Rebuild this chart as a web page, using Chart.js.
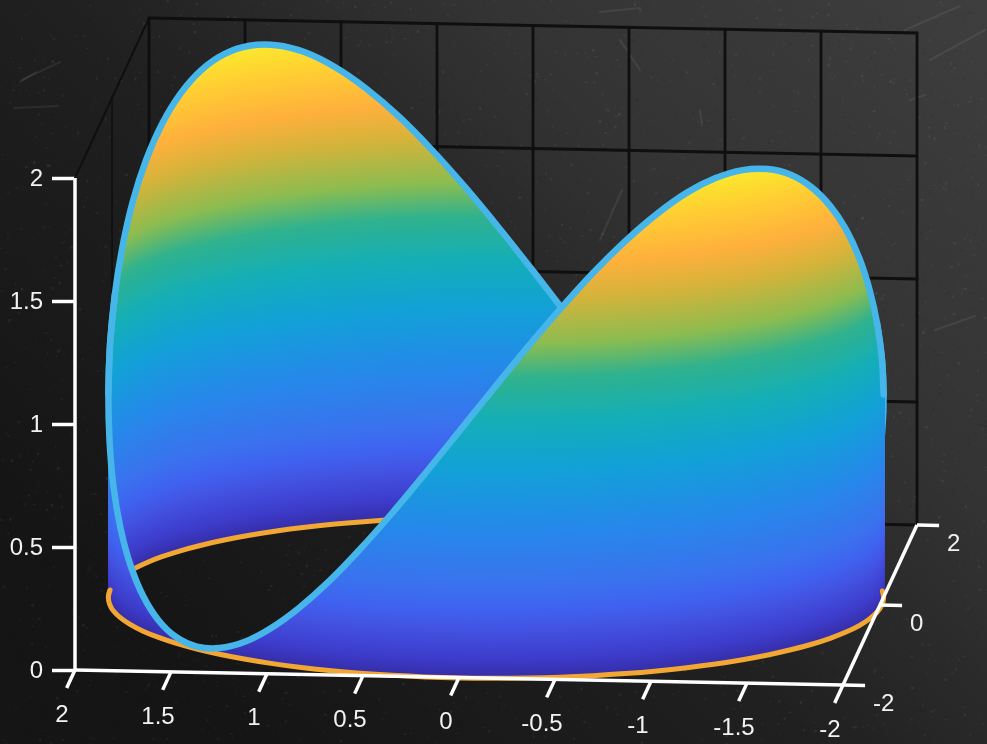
<!DOCTYPE html>
<html>
<head>
<meta charset="utf-8">
<style>html,body{margin:0;padding:0;background:#1c1c1c}canvas{display:block}</style>
<script src="https://cdn.jsdelivr.net/npm/chart.js@4"></script>
</head>
<body>
<canvas id="c" width="987" height="744"></canvas>
<script>
// Rim samples, from -5 deg round to 355 deg in 5 deg steps
const rimX = [2.002,2.01,2.002,1.979,1.942,1.889,1.822,1.741,1.646,1.54,1.421,1.292,1.153,1.005,.849,.687,.52,.349,.175,0,
 -.175,-.349,-.52,-.687,-.849,-1.005,-1.153,-1.292,-1.421,-1.54,-1.646,-1.741,-1.822,-1.889,-1.942,-1.979,-2.002,-2.01,
 -2.002,-1.979,-1.942,-1.889,-1.822,-1.741,-1.646,-1.54,-1.421,-1.292,-1.153,-1.005,-.849,-.687,-.52,-.349,-.175,0,
 .175,.349,.52,.687,.849,1.005,1.153,1.292,1.421,1.54,1.646,1.741,1.822,1.889,1.942,1.979,2.002];
const rimY = [-.175,0,.175,.349,.52,.687,.849,1.005,1.153,1.292,1.421,1.54,1.646,1.741,1.822,1.889,1.942,1.979,2.002,2.01,
 2.002,1.979,1.942,1.889,1.822,1.741,1.646,1.54,1.421,1.292,1.153,1.005,.849,.687,.52,.349,.175,0,
 -.175,-.349,-.52,-.687,-.849,-1.005,-1.153,-1.292,-1.421,-1.54,-1.646,-1.741,-1.822,-1.889,-1.942,-1.979,-2.002,-2.01,
 -2.002,-1.979,-1.942,-1.889,-1.822,-1.741,-1.646,-1.54,-1.421,-1.292,-1.153,-1.005,-.849,-.687,-.52,-.349,-.175];
const rimZ = [.828,1,1.172,1.339,1.495,1.637,1.758,1.857,1.931,1.975,1.99,1.975,1.931,1.857,1.758,1.637,1.495,1.339,1.172,1,
 .828,.661,.505,.363,.242,.143,.069,.025,.01,.025,.069,.143,.242,.363,.505,.661,.828,1,
 1.172,1.339,1.495,1.637,1.758,1.857,1.931,1.975,1.99,1.975,1.931,1.857,1.758,1.637,1.495,1.339,1.172,1,
 .828,.661,.505,.363,.242,.143,.069,.025,.01,.025,.069,.143,.242,.363,.505,.661,.828];
const xTicks = [2,1.5,1,0.5,0,-0.5,-1,-1.5,-2];
const yTicks = [-2,0,2];
const zTicks = [0,0.5,1,1.5,2];
const colourFractions = [0,.04,.1,.14,.19,.3,.42,.52,.61,.68,.77,.84,.92,1];
const colourValues = ['#352ca6','#3d3ccb','#4353e2','#3f62f0','#3a72ee','#2688ea','#12a0d8','#14aeb8','#2fb28e','#8cbc50','#d4b33a','#feb03c','#ffcc33','#fbeb2c'];
const chalkMarks = [[22,80,60,62],[20,82,36,72],[14,108,58,106],[620,40,640,70],[905,30,960,6],[930,60,985,30],[600,240,622,190],[935,330,975,316],[600,12,640,8],[160,120,190,118],[700,110,702,125],[910,100,925,95]];

const project = (x, y, z) => ({ x: (2 - x) + 0.09635 * (y + 2), y: z + 0.1626 * (y + 2) - 0.01524 * (2 - x) });
const idx = rimX.map((_, i) => i);
const BACK = idx.slice(0, 37), FRONT = idx.slice(36, 73);
const rimLine = ids => ids.map(i => project(rimX[i], rimY[i], rimZ[i]));
const baseLine = ids => ids.map(i => project(rimX[i], rimY[i], 0));
const wall = ids => ids.flatMap(i => [project(rimX[i], rimY[i], rimZ[i]), project(rimX[i], rimY[i], 0)]);

class SurfaceController extends Chart.LineController {
  draw() {
    const ctx = this.chart.ctx, pts = this.getMeta().data;
    const yS = this.chart.scales.y;
    const span = yS.getPixelForValue(0) - yS.getPixelForValue(2);
    ctx.save();
    // pixel-wide columns between each pair of rim samples, coloured by height above the base
    for (let i = 0; i + 3 < pts.length; i += 2) {
      const t0 = pts[i], b0 = pts[i + 1], t1 = pts[i + 2], b1 = pts[i + 3];
      const lo = Math.min(t0.x, t1.x), hi = Math.max(t0.x, t1.x);
      for (let col = Math.floor(lo); col <= Math.ceil(hi); col++) {
        const mid = Math.max(lo, Math.min(hi, col + 0.5));
        const u = hi > lo ? (mid - t0.x) / (t1.x - t0.x) : 0;
        const top = t0.y + (t1.y - t0.y) * u, by = b0.y + (b1.y - b0.y) * u;
        const g = ctx.createLinearGradient(0, by, 0, by - span);
        colourFractions.forEach((f, k) => g.addColorStop(f, colourValues[k]));
        ctx.fillStyle = g;
        ctx.fillRect(col, top, 1, by - top);
      }
    }
    ctx.restore();
  }
}
SurfaceController.id = 'surface';
SurfaceController.defaults = Chart.LineController.defaults;
Chart.register(SurfaceController);

const line = (data, color, width, extra) => Object.assign({ type: 'line', data, borderColor: color, borderWidth: width, pointRadius: 0, tension: 0, fill: false, clip: false, borderCapStyle: 'round', borderJoinStyle: 'round' }, extra || {});
const GRID = '#0f0f0f', AXIS = '#ffffff', RIM = '#46b5e9', BASE = '#f2a733';
const paint = [];
// back wall and left wall grid
xTicks.forEach(x => paint.push(line([project(x, 2, 0), project(x, 2, 2)], GRID, 2.8)));
zTicks.forEach(z => paint.push(line([project(2, 2, z), project(-2, 2, z)], GRID, 2.8)));
paint.push(line([project(2, 2, 2), project(2, -2, 2)], GRID, 2));
yTicks.forEach(y => paint.push(line([project(2, y, 0), project(2, y, 2)], GRID, 1.6)));
// far half of the surface
paint.push({ type: 'surface', data: wall(BACK), clip: false, pointRadius: 0, borderWidth: 0 });
paint.push(line(baseLine(BACK), BASE, 5, { tension: 0.35 }));
paint.push(line(rimLine(idx.slice(0, 39)), RIM, 6.5, { tension: 0.35 }));
// near half of the surface
paint.push({ type: 'surface', data: wall(FRONT), clip: false, pointRadius: 0, borderWidth: 0 });
paint.push(line(baseLine(idx.slice(35, 73).concat([1])), BASE, 5, { tension: 0.35 }));
paint.push(line(rimLine(idx.slice(36, 73).concat([1, 2])), RIM, 6.5, { tension: 0.35 }));
// axes
const butt = { borderCapStyle: 'butt' };
paint.push(line([project(2, -2, 0), project(2, -2, 2)], AXIS, 3.5, butt));
paint.push(line([project(2, -2, 0), project(-2, -2, 0)], AXIS, 3.5, butt));
paint.push(line([project(-2, -2, 0), project(-2, 2, 0)], AXIS, 3.5, butt));
xTicks.forEach(x => paint.push(line([project(x, -2, 0), project(x, -2.45, 0)], AXIS, 3.5, butt)));
yTicks.forEach(y => paint.push(line([project(-2, y, 0), project(-2.115, y, 0)], AXIS, 3.5, butt)));
paint.forEach((d, i) => { d.order = paint.length - i; });

const board = {
  id: 'board',
  beforeDraw(chart) {
    const c = chart.ctx, W = chart.width, H = chart.height;
    c.save();
    let g = c.createLinearGradient(W, 0, 250, H);
    g.addColorStop(0, '#3e3e3e'); g.addColorStop(.35, '#333333'); g.addColorStop(.62, '#202020'); g.addColorStop(1, '#151515');
    c.fillStyle = g; c.fillRect(0, 0, W, H);
    let seed = 12345;
    const next = () => (seed = (seed * 16807) % 2147483647) / 2147483647;
    for (let i = 0; i < 5000; i++) {
      const v = next() > .5 ? 255 : 0;
      c.fillStyle = `rgba(${v},${v},${v},${.02 + next() * .05})`;
      c.fillRect(next() * W, next() * H, 1 + next() * 2, 1 + next() * 2);
    }
    c.strokeStyle = 'rgba(255,255,255,.07)'; c.lineWidth = 2; c.lineCap = 'round';
    chalkMarks.forEach(m => { c.beginPath(); c.moveTo(m[0], m[1]); c.lineTo(m[2], m[3]); c.stroke(); });
    c.restore();
  }
};
const axisText = {
  id: 'axisText',
  afterDraw(chart) {
    const c = chart.ctx, sx = chart.scales.x, sy = chart.scales.y;
    c.save();
    c.fillStyle = '#f2f2f2'; c.font = "24px 'Liberation Sans', Arial, sans-serif"; c.textBaseline = 'middle';
    c.textAlign = 'center';
    xTicks.forEach(x => {
      const p = project(x, -2, 0);
      c.fillText(String(x), sx.getPixelForValue(p.x) - 13, sy.getPixelForValue(p.y) + 45);
    });
    c.textAlign = 'left';
    yTicks.forEach(y => {
      const p = project(-2, y, 0);
      c.fillText(String(y), sx.getPixelForValue(p.x) + 30, sy.getPixelForValue(p.y) + 19);
    });
    c.restore();
  }
};

new Chart(document.getElementById('c'), {
  type: 'line',
  data: { datasets: paint },
  plugins: [board, axisText],
  options: {
    responsive: false,
    animation: false,
    layout: { padding: 0 },
    plugins: { legend: { display: false }, tooltip: { enabled: false } },
    events: [],
    scales: {
      x: { type: 'linear', display: false, min: 0, max: 4.75 },
      y: {
        type: 'linear', position: 'left', min: -0.3008, max: 2.7236,
        afterBuildTicks(s) { s.ticks = zTicks.map(v => ({ value: v })); },
        afterFit(s) { s.width = 75; s.paddingTop = 0; s.paddingBottom = 0; },
        border: { display: false },
        grid: { drawOnChartArea: false, drawTicks: true, tickLength: 23, tickColor: '#ffffff', tickWidth: 3.5 },
        ticks: { color: '#f2f2f2', padding: 9, labelOffset: 1.5, autoSkip: false, maxRotation: 0, font: { family: "'Liberation Sans', Arial, sans-serif", size: 24 }, callback: v => String(v) }
      }
    }
  }
});
</script>
</body>
</html>
